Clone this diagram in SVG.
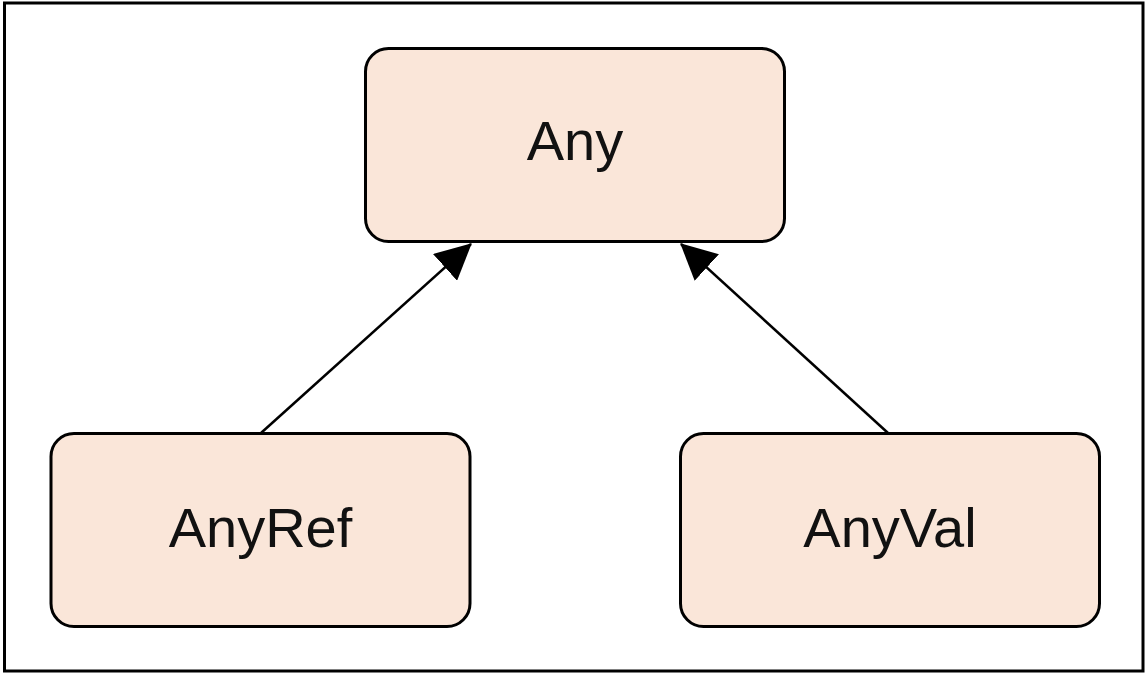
<svg xmlns="http://www.w3.org/2000/svg" width="1147" height="673" viewBox="0 0 1147 673">
<style>
.node rect{fill:#FAE6D9;stroke:#000;stroke-width:3}
.node text{font-family:"Liberation Sans",Arial,sans-serif;font-size:56px;fill:#111;text-anchor:middle}
.edge{stroke:#000;stroke-width:2.5;fill:none;marker-end:url(#arr)}
</style>
<defs>
<marker id="arr" markerUnits="userSpaceOnUse" markerWidth="36" markerHeight="36" viewBox="0 0 34 34" refX="33" refY="17" orient="auto">
<path d="M0,0 L34,17 L0,34 Z" fill="#000"/>
</marker>
</defs>
<rect x="4.5" y="3" width="1138.5" height="668" fill="#fff" stroke="#000" stroke-width="3"/>
<g id="connectors">
<line class="edge" x1="261" y1="433" x2="471" y2="244"/>
<line class="edge" x1="888" y1="433" x2="681" y2="244"/>
</g>
<g id="node-any" class="node">
<rect x="365.5" y="48.5" width="419" height="193" rx="23"/>
<text x="575" y="160">Any</text>
</g>
<g id="node-anyref" class="node">
<rect x="51" y="433.5" width="419" height="193" rx="23"/>
<text x="260.5" y="547">AnyRef</text>
</g>
<g id="node-anyval" class="node">
<rect x="680.5" y="433.5" width="419" height="193" rx="23"/>
<text x="890" y="547">AnyVal</text>
</g>
</svg>
